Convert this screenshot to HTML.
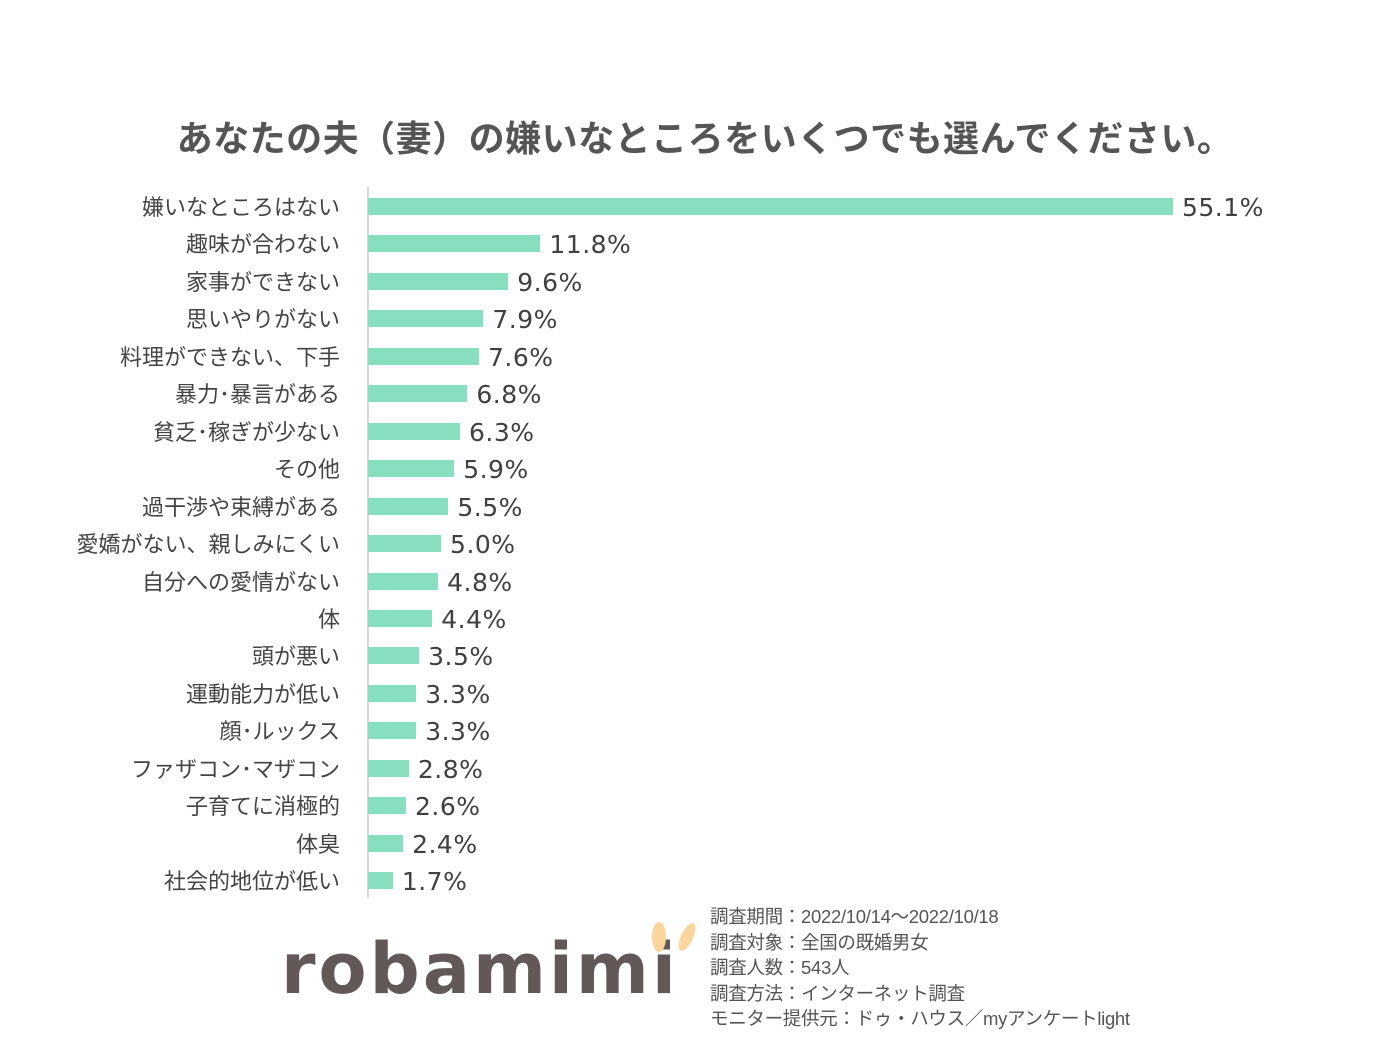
<!DOCTYPE html>
<html><head><meta charset="utf-8"><style>
body{margin:0;width:1386px;height:1044px;background:#fff;position:relative;overflow:hidden;font-family:"Liberation Sans","Noto Sans CJK JP",sans-serif;color:#444}
.t{position:absolute;left:0;width:1410px;top:110px;text-align:center;font-size:36px;font-weight:bold;color:#555;white-space:nowrap;letter-spacing:0.5px}
.l{position:absolute;right:1046px;font-size:22px;white-space:nowrap;line-height:26px;color:#444}
.b{position:absolute;left:368px;height:17px;background:#88dfc0}
.v{position:absolute;font-family:"DejaVu Sans",sans-serif;font-size:25px;line-height:28px;color:#404040;white-space:nowrap;letter-spacing:0.5px}
.ax{position:absolute;left:367px;top:187px;width:2px;height:711px;background:#d9d9d9}
.note{position:absolute;left:710px;top:904px;font-size:18.5px;line-height:25.5px;color:#555;white-space:nowrap;letter-spacing:-0.3px}
.logo{position:absolute;left:281px;top:928px;font-family:"DejaVu Sans",sans-serif;font-weight:bold;font-size:70px;color:#625858;letter-spacing:3px}
</style></head><body>
<div class="t">あなたの夫（妻）の嫌いなところをいくつでも選んでください。</div>
<div class="ax"></div>
<div id="c"></div>
<div class="note">調査期間：2022/10/14～2022/10/18<br>調査対象：全国の既婚男女<br>調査人数：543人<br>調査方法：インターネット調査<br>モニター提供元：ドゥ・ハウス／myアンケートlight</div>
<div class="logo">robamimi</div>
<svg style="position:absolute;left:645px;top:912px" width="60" height="50"><ellipse cx="14" cy="25" rx="7" ry="15" fill="#fbd59c"/><ellipse cx="42" cy="25" rx="6" ry="15" fill="#fbd59c" transform="rotate(25 42 25)"/></svg>
<script>
var d=[["嫌いなところはない",55.1],["趣味が合わない",11.8],["家事ができない",9.6],["思いやりがない",7.9],["料理ができない、下手",7.6],["暴力･暴言がある",6.8],["貧乏･稼ぎが少ない",6.3],["その他",5.9],["過干渉や束縛がある",5.5],["愛嬌がない、親しみにくい",5.0],["自分への愛情がない",4.8],["体",4.4],["頭が悪い",3.5],["運動能力が低い",3.3],["顔･ルックス",3.3],["ファザコン･マザコン",2.8],["子育てに消極的",2.6],["体臭",2.4],["社会的地位が低い",1.7]];
var h="";d.forEach(function(r,i){var cy=207+i*37.45,w=r[1]*14.61;
h+='<div class="l" style="top:'+(cy-12)+'px">'+r[0]+'</div><div class="b" style="top:'+(cy-9)+'px;width:'+w+'px"></div><div class="v" style="top:'+(cy-13)+'px;left:'+(368+w+9)+'px">'+r[1].toFixed(1)+'%</div>';});
document.getElementById("c").innerHTML=h;
</script>
</body></html>
